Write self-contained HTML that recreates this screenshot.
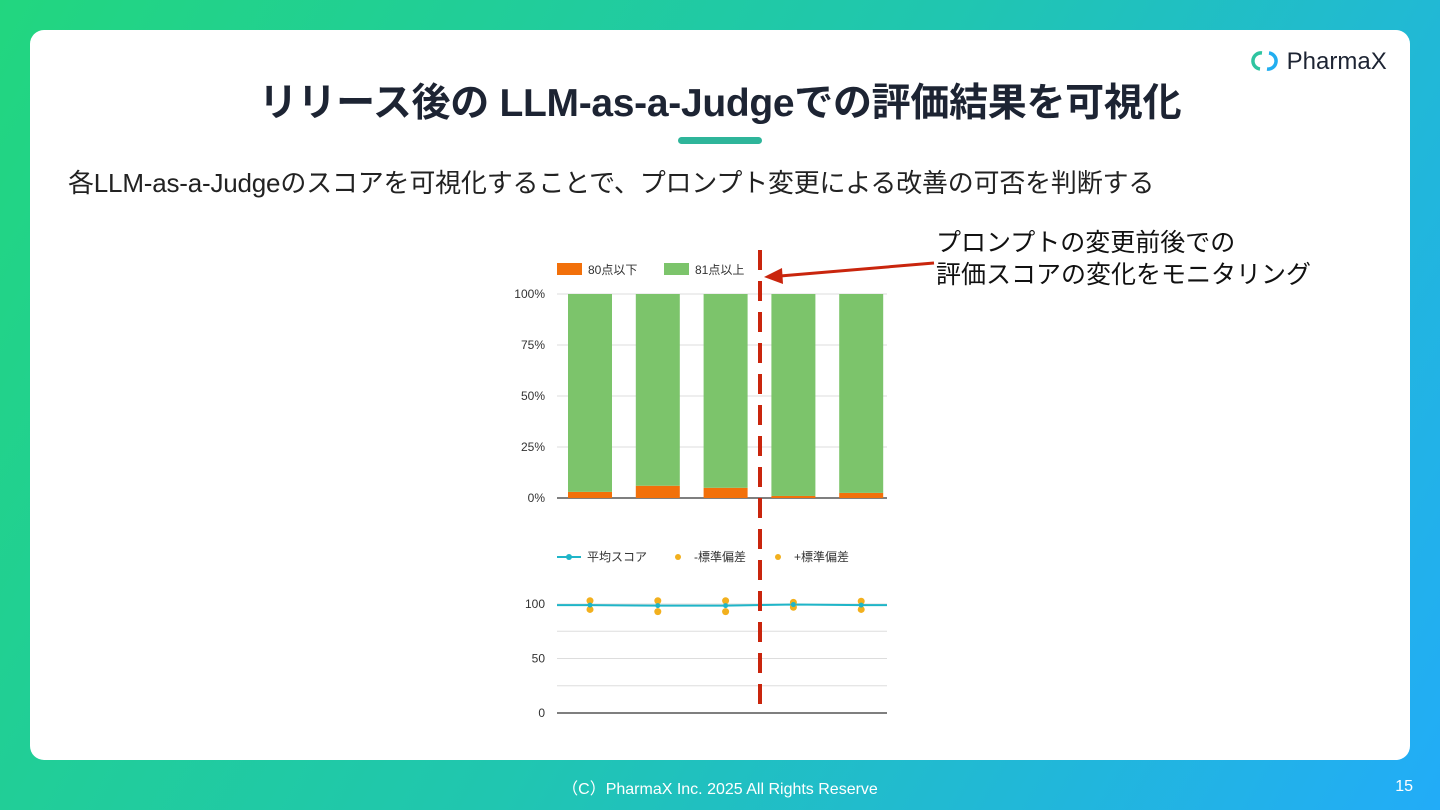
<!DOCTYPE html>
<html><head><meta charset="utf-8"><style>
body{margin:0;width:1440px;height:810px;overflow:hidden;font-family:"Liberation Sans","Noto Sans CJK JP",sans-serif;background:linear-gradient(120deg,#22d67f 0%,#20c6b0 50%,#22acf8 100%);position:relative}
.card{position:absolute;left:30px;top:30px;width:1380px;height:730px;background:#fff;border-radius:14px}
h1{position:absolute;left:0;width:1440px;top:72px;margin:0;text-align:center;font-size:39px;font-weight:bold;color:#1d2433;letter-spacing:-0.3px}
.bar{position:absolute;left:678px;top:137px;width:84px;height:7px;border-radius:4px;background:#2eb59a}
.sub{position:absolute;left:68px;top:163px;font-size:26px;color:#222;letter-spacing:-0.2px}
.note{position:absolute;left:936px;top:227px;font-size:25px;line-height:32px;color:#111}
.logo{position:absolute;left:1250px;top:48px;font-size:24px;color:#1d2433;font-weight:500}
.foot{position:absolute;left:0;width:1440px;top:775px;text-align:center;color:#fff;font-size:16px}
.pg{position:absolute;right:27px;top:778px;color:#fff;font-size:16px}
</style></head><body>
<div class="card"></div>
<h1>リリース後の LLM-as-a-Judgeでの評価結果を可視化</h1>
<div class="bar"></div>
<div class="sub">各LLM-as-a-Judgeのスコアを可視化することで、プロンプト変更による改善の可否を判断する</div>
<div class="note">プロンプトの変更前後での<br>評価スコアの変化をモニタリング</div>
<div class="logo"><svg width="30" height="26" viewBox="0 0 30 26" style="vertical-align:-5px"><path d="M12 5 A8 8 0 0 0 10 21" stroke="#2ec4a0" stroke-width="3.5" fill="none"/><path d="M17 21 A8 8 0 0 0 19 5" stroke="#22aef0" stroke-width="3.5" fill="none"/></svg> PharmaX</div>
<div class="foot">（C）PharmaX Inc. 2025  All Rights Reserve</div>
<div class="pg">15</div>
<svg id="chart" width="1440" height="810" style="position:absolute;left:0;top:0"></svg>
<script>
const low=[3,6,5,1,2.5];
const high=[97,94,95,99,97.5];
const mean=[99,98.5,98.5,99.5,99];
const minus=[95,93,93,97,95];
const plus=[103,103,103,101.5,102.5];
const pctTicks=["0%","25%","50%","75%","100%"];
const scoreTicks=["0","50","100"];
const svg=document.getElementById('chart');const NS='http://www.w3.org/2000/svg';
function mk(t,a,p){const e=document.createElementNS(NS,t);for(const k in a)e.setAttribute(k,a[k]);(p||svg).appendChild(e);return e;}
const xc=i=>590+i*67.8;
const yb=v=>498-v*2.04;
const ys=v=>713-v*1.09;
for(let i=0;i<5;i++){const y=yb(i*25);const l=mk('line',{x1:557,x2:887,y1:y,y2:y,stroke:i==0?'#555':'#ddd','stroke-width':i==0?1.5:1});


const t=mk('text',{x:545,y:y+4,'text-anchor':'end','font-size':12,fill:'#333'});t.textContent=pctTicks[i];

}
low.forEach((v,i)=>{const r1=mk('rect',{x:xc(i)-22,y:yb(v),width:44,height:v*2.04,fill:'#f2700a'});


const r2=mk('rect',{x:xc(i)-22,y:yb(v+high[i]),width:44,height:high[i]*2.04,fill:'#7cc46b'});

});
[['#f2700a','80点以下',557],['#7cc46b','81点以上',664]].forEach(([c,t,x])=>{const r=mk('rect',{x:x,y:263,width:25,height:12,fill:c});


const tx=mk('text',{x:x+31,y:274,'font-size':12,fill:'#333'});tx.textContent=t;

});
for(let i=0;i<5;i++){const v=i*25;const y=ys(v);const l=mk('line',{x1:557,x2:887,y1:y,y2:y,stroke:i==0?'#555':'#ddd','stroke-width':i==0?1.5:1});

}
scoreTicks.forEach(s=>{const t=mk('text',{x:545,y:ys(+s)+4,'text-anchor':'end','font-size':12,fill:'#333'});t.textContent=s;

});
let d='M557 '+ys(mean[0]);mean.forEach((v,i)=>d+=' L'+xc(i)+' '+ys(v));d+=' L887 '+ys(mean[4]);
const ln=mk('path',{d:d,stroke:'#1fb5c8','stroke-width':2,fill:'none'});


[minus,plus].forEach((arr,k)=>arr.forEach((v,i)=>{const c=mk('circle',{cx:xc(i),cy:ys(v),r:3.5,fill:'#f2b01e'});

}));
mean.forEach((v,i)=>{const c=mk('circle',{cx:xc(i),cy:ys(v),r:2.5,fill:'#1fb5c8'});

});
const l2=mk('line',{x1:557,x2:581,y1:557,y2:557,stroke:'#1fb5c8','stroke-width':2});


mk('circle',{cx:569,cy:557,r:3,fill:'#1fb5c8'});
[['平均スコア',587],['-標準偏差',694],['+標準偏差',794]].forEach(([t,x],i)=>{if(i){const c=mk('circle',{cx:x-16,cy:557,r:3,fill:'#f2b01e'});}
const tx=mk('text',{x:x,y:561,'font-size':12,fill:'#333'});tx.textContent=t;

});
const dl=mk('line',{x1:760,x2:760,y1:250,y2:714,stroke:'#c9250d','stroke-width':4,'stroke-dasharray':'20 11'});


const ar=mk('line',{x1:934,x2:780,y1:263,y2:276,stroke:'#c9250d','stroke-width':3});


mk('polygon',{points:'764,277 782,268 783,284',fill:'#c9250d'});
</script>
</body></html>
